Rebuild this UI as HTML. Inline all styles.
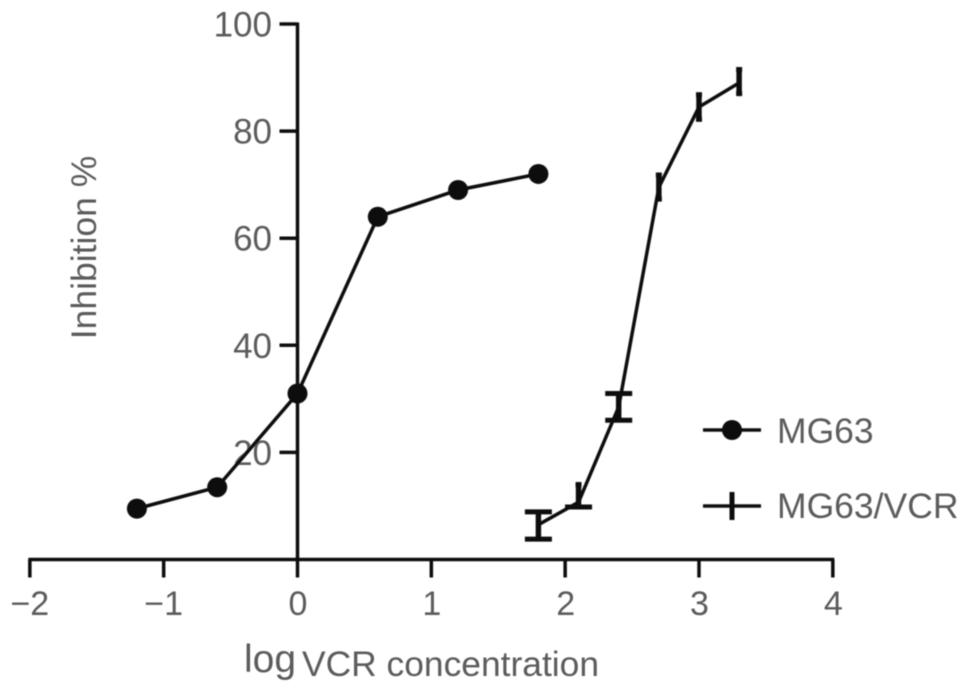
<!DOCTYPE html>
<html>
<head>
<meta charset="utf-8">
<style>
html,body{margin:0;padding:0;background:#fff;width:969px;height:697px;overflow:hidden}
svg{display:block}
text{font-family:"Liberation Sans",sans-serif;fill:#5c5c5c}
</style>
</head>
<body>
<svg id="chart" width="969" height="697" viewBox="0 0 969 697" xmlns="http://www.w3.org/2000/svg">
<defs><filter id="soft" x="-5%" y="-5%" width="110%" height="110%"><feGaussianBlur stdDeviation="0.6"/></filter></defs>
<g id="root" filter="url(#soft)"></g>
</svg>
<script>
const xTicks = [-2, -1, 0, 1, 2, 3, 4];
const yTicks = [20, 40, 60, 80, 100];
const mg63X = [-1.2, -0.6, 0, 0.6, 1.2, 1.8];
const mg63Y = [9.5, 13.5, 31, 64, 69, 72];
const vcrX = [1.8, 2.1, 2.4, 2.7, 3.0, 3.3];
const vcrY = [6.5, 10.7, 28.5, 69.5, 84.5, 89];
const vcrLow = [3.8, 9.8, 26, 67.3, 82.2, 87];
const vcrHigh = [8.9, 14, 31, 71.8, 86.8, 91.5];
const seriesNames = ['MG63', 'MG63/VCR'];

const NS = 'http://www.w3.org/2000/svg';
const root = document.getElementById('root');
const sx = v => 297.5 + v * 133.83;
const sy = v => 559.5 - v * 5.355;
function make(tag, attrs, parent) {
  const el = document.createElementNS(NS, tag);
  for (const k in attrs) el.setAttribute(k, attrs[k]);
  (parent || root).appendChild(el);
  return el;
}
function line(x1, y1, x2, y2, w, parent) {
  return make('line', {x1, y1, x2, y2, stroke: '#111', 'stroke-width': w}, parent);
}
function label(str, x, y, size, anchor, parent) {
  const t = make('text', {x, y, 'font-size': size, 'text-anchor': anchor}, parent);
  t.textContent = str;
  return t;
}

// Axes
const xAxis = make('g', {});


line(sx(-2) - 1.5, sy(0), sx(4) + 1.5, sy(0), 3.5, xAxis);
xTicks.forEach(v => {
  const tick = line(sx(v), sy(0), sx(v), sy(0) + 18, 3.5, xAxis);
  
  
  const t = label(v < 0 ? '\u2212' + Math.abs(v) : String(v), sx(v) + (v < 0 ? 0 : 0.5), 615, 34, 'middle', xAxis);
  
  
});

const yAxis = make('g', {});


line(sx(0), sy(100) - 1.5, sx(0), sy(0), 3.5, yAxis);
yTicks.forEach(v => {
  const tick = line(sx(0) - 18, sy(v), sx(0), sy(v), 3.5, yAxis);
  
  
  const t = label(String(v), 272, sy(v) + 12.5, 35, 'end', yAxis);
  
  
});

// Titles
const yTitle = label('Inhibition %', 0, 0, 35.5, 'middle');
yTitle.setAttribute('transform', 'translate(96 247.5) rotate(-90)');



const xTitle = make('g', {});


label('log', 244, 672, 39, 'start', xTitle);
label('VCR concentration', 302, 676, 35.4, 'start', xTitle);

// MG63 series
const s1 = make('g', {});


make('polyline', {
  points: mg63X.map((x, i) => sx(x) + ',' + sy(mg63Y[i])).join(' '),
  fill: 'none', stroke: '#111', 'stroke-width': 3.5
}, s1);
mg63X.forEach((x, i) => {
  const c = make('circle', {cx: sx(x), cy: sy(mg63Y[i]), r: 10, fill: '#0a0a0a'}, s1);
  
  
});

// MG63/VCR series
const s2 = make('g', {});


make('polyline', {
  points: vcrX.map((x, i) => sx(x) + ',' + sy(vcrY[i])).join(' '),
  fill: 'none', stroke: '#111', 'stroke-width': 3.5
}, s2);
vcrX.forEach((x, i) => {
  const px = sx(x);
  const bar = line(px, sy(vcrLow[i]), px, sy(vcrHigh[i]), 5.5, s2);
  
  
  const lowHalf = i < 3 ? 13.5 : 3;
  const highHalf = (i === 0 || i === 2) ? 13.5 : 3;
  const lo = line(px - lowHalf, sy(vcrLow[i]), px + lowHalf, sy(vcrLow[i]), 5, s2);
  
  
  const hi = line(px - highHalf, sy(vcrHigh[i]), px + highHalf, sy(vcrHigh[i]), 5, s2);
  
  
});

// Legend
const l1 = make('g', {});


line(703, 430, 761, 430, 3.5, l1);
make('circle', {cx: 732, cy: 430, r: 10, fill: '#0a0a0a'}, l1);
label(seriesNames[0], 777, 443, 35.5, 'start', l1);

const l2 = make('g', {});


line(703, 506, 761, 506, 3.5, l2);
line(732, 492, 732, 520, 5, l2);
label(seriesNames[1], 777, 518, 35.5, 'start', l2);
</script>
</body>
</html>
